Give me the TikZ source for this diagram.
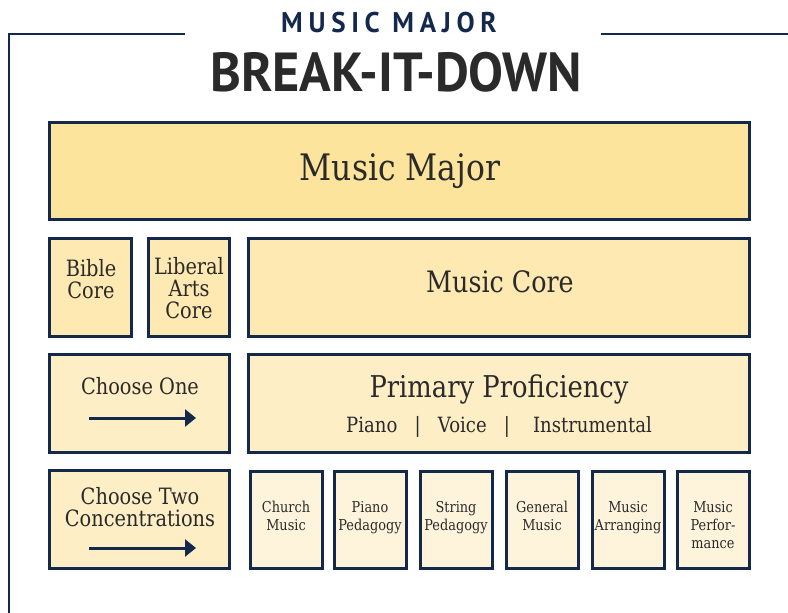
\documentclass[tikz,border=0pt]{standalone}
\usepackage{fontspec}
\setmainfont{DejaVu Serif}[FakeStretch=0.86]
\newfontfamily\titlefont{PT Sans}[FakeStretch=0.95]
\newfontfamily\subtitlefont{PT Sans}[FakeStretch=0.95,LetterSpace=20]
\usetikzlibrary{arrows.meta}
\definecolor{navy}{HTML}{14284B}
\definecolor{ink}{HTML}{2A2A2A}
\definecolor{fillA}{HTML}{FDE49C}
\definecolor{fillB}{HTML}{FEE9B2}
\definecolor{fillC}{HTML}{FEEEC6}
\definecolor{fillD}{HTML}{FEF4DC}
\tikzset{
  box/.style={draw=navy, line width=3pt, inner sep=0pt, align=center, text=ink, font=\fontsize{22.5}{22}\selectfont},
  small/.style={draw=navy, line width=3pt, fill=fillD, minimum width=72pt, minimum height=97pt, inner sep=0pt},
  smalltxt/.style={text=ink, align=center, inner sep=0pt, font=\fontsize{15}{18}\selectfont},
  txt/.style={text=ink, align=center, inner sep=0pt},
  framel/.style={draw=navy, line width=2.2pt},
  arr/.style={draw=navy, line width=3pt, -{Triangle[length=11pt,width=17pt]}}
}
\begin{document}
\begin{tikzpicture}[x=1pt,y=-1pt]
\useasboundingbox (0,0) rectangle (788,613);
% frame
\coordinate (fl0) at (185,34);
\coordinate (fl1) at (9,34);
\coordinate (fl2) at (9,613);
\coordinate (fr0) at (601,34);
\coordinate (fr1) at (788,34);
\draw[framel] (fl0) -- (fl1) -- (fl2);
\draw[framel] (fr0) -- (fr1);
% titles
\node[text=navy, font=\subtitlefont\bfseries\fontsize{28.5}{28}\selectfont, inner sep=0pt] (t1) at (389,23) {MUSIC MAJOR};
\node[text=ink, font=\titlefont\bfseries\fontsize{55}{55}\selectfont, inner sep=0pt] (t2) at (396,72) {BREAK-IT-DOWN};
% row 1
\node[box, fill=fillA, minimum width=700pt, minimum height=97pt] (major) at (399,170.5) {};
\node[txt, font=\fontsize{36.5}{38}\selectfont] (majort) at (400,171) {Music Major};
% row 2
\node[box, fill=fillB, minimum width=82pt, minimum height=98pt] (bible) at (90,287) {};
\node[txt, font=\fontsize{22.5}{22}\selectfont] (biblet) at (91,279) {Bible\\Core};
\node[box, fill=fillB, minimum width=81pt, minimum height=98pt] (liberal) at (188.5,287) {};
\node[txt, font=\fontsize{22.5}{22}\selectfont] (liberalt) at (189,288) {Liberal\\Arts\\Core};
\node[box, fill=fillB, minimum width=501pt, minimum height=98pt] (core) at (498.5,287) {};
\node[txt, font=\fontsize{29.5}{30}\selectfont] (coret) at (500,282) {Music Core};
% row 3
\node[box, fill=fillC, minimum width=180pt, minimum height=98pt] (one) at (139,403) {};
\node[txt, font=\fontsize{22.5}{22}\selectfont] (onet) at (140,386) {Choose One};
\coordinate (a1s) at (89,418);
\coordinate (a1e) at (196,418);
\draw[arr] (a1s) -- (a1e);
\node[box, fill=fillC, minimum width=501pt, minimum height=98pt] (prim) at (498.5,403) {};
\node[txt, font=\fontsize{30}{30}\selectfont] (primt) at (499,389) {Primary Proficiency};
\node[txt, font=\fontsize{21}{22}\selectfont] (primo) at (499,427) {Piano\ \ \ |\ \ \ Voice\ \ \ |\ \ \ \ Instrumental};
% row 4
\node[box, fill=fillC, minimum width=180pt, minimum height=98pt] (two) at (139,519) {};
\node[txt, font=\fontsize{22.5}{22}\selectfont] (twot) at (140,507) {Choose Two\\Concentrations};
\coordinate (a2s) at (89,548);
\coordinate (a2e) at (196,548);
\draw[arr] (a2s) -- (a2e);
\node[small] (church) at (286,519.5) {};
\node[smalltxt] (churcht) at (286,525) {Church\\Music\\\mbox{}};
\node[small] (piano) at (370,519.5) {};
\node[smalltxt] (pianot) at (370,525) {Piano\\Pedagogy\\\mbox{}};
\node[small] (string) at (456,519.5) {};
\node[smalltxt] (stringt) at (456,525) {String\\Pedagogy\\\mbox{}};
\node[small] (general) at (542,519.5) {};
\node[smalltxt] (generalt) at (542,525) {General\\Music\\\mbox{}};
\node[small] (arrg) at (628,519.5) {};
\node[smalltxt] (arrgt) at (628,525) {Music\\Arranging\\\mbox{}};
\node[small] (perf) at (713,519.5) {};
\node[smalltxt] (perft) at (713,525) {Music\\Perfor-\\mance};
\end{tikzpicture}
\end{document}
